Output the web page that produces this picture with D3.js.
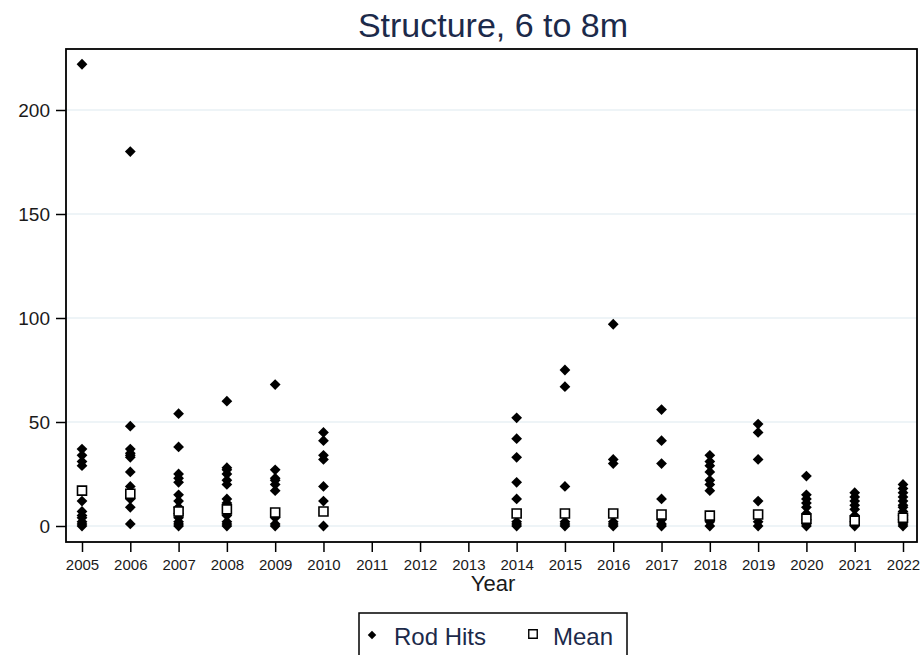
<!DOCTYPE html>
<html>
<head>
<meta charset="utf-8">
<script src="https://cdn.jsdelivr.net/npm/d3@7"></script>
<style>
  html, body { margin: 0; padding: 0; background: #fff; }
  svg { display: block; font-family: "Liberation Sans", Arial, sans-serif; }
</style>
</head>
<body>
<svg id="chart" width="921" height="655"></svg>
<script>
// Survey years shown on the x axis (2011-2013 have no samples)
const years = [2005, 2006, 2007, 2008, 2009, 2010, 2011, 2012, 2013,
               2014, 2015, 2016, 2017, 2018, 2019, 2020, 2021, 2022];

// Sampled years and their individual rod-hit counts
const sampleYears = [2005, 2006, 2007, 2008, 2009, 2010,
                     2014, 2015, 2016, 2017, 2018, 2019, 2020, 2021, 2022];
const rodHits = [
  [222, 37, 34, 31, 29, 12, 7, 5, 4, 2, 1, 0],
  [180, 48, 37, 35, 34, 33, 26, 19, 13, 9, 1],
  [54, 38, 25, 23, 21, 15, 12, 9, 6, 4, 2, 1, 0],
  [60, 28, 27, 25, 22, 20, 13, 11, 5, 2, 1, 0],
  [68, 27, 23, 22, 20, 17, 4, 1, 0],
  [45, 41, 34, 32, 19, 12, 0],
  [52, 42, 33, 21, 13, 2, 1, 0],
  [75, 67, 19, 2, 1, 0],
  [97, 32, 30, 2, 1, 0],
  [56, 41, 30, 13, 3, 1, 0],
  [34, 31, 29, 26, 22, 20, 17, 2, 0],
  [49, 45, 32, 12, 2, 0],
  [24, 15, 13, 11, 9, 6, 3, 1, 0],
  [16, 14, 12, 10, 8, 5, 2, 0],
  [20, 18, 16, 14, 12, 10, 9, 7, 5, 3, 1, 0]
];
// Mean rod hits per sampled year
const meanHits = [17, 15.5, 7, 8, 6.5, 7, 6, 6, 6, 5.5, 5, 5.5, 3.5, 2.5, 4];

const yTicks = [0, 50, 100, 150, 200];
const titleText = "Structure, 6 to 8m";
const xTitle = "Year";
const legendLabels = ["Rod Hits", "Mean"];

const svg = d3.select("#chart");

// Plot region
const box = { left: 66, right: 917, top: 49, bottom: 542 };

const x = d3.scaleLinear().domain([2005, 2022]).range([82, 903]);
const y = d3.scaleLinear().domain([0, 200]).range([526, 110]);

// Gridlines
svg.append("g")
  .selectAll("line")
  .data(yTicks)
  .join("line")
  .attr("x1", box.left).attr("x2", box.right)
  .attr("y1", d => y(d)).attr("y2", d => y(d))
  .attr("stroke", "#e8f0f4")
  .attr("stroke-width", 1.5);

// Y axis
const yAxis = svg.append("g")
  .attr("transform", `translate(${box.left},0)`)
  .call(d3.axisLeft(y).tickValues(yTicks).tickSize(10).tickPadding(6));
yAxis.select(".domain").remove();
yAxis.selectAll(".tick line").attr("stroke", "#000").attr("stroke-width", 1.5);
yAxis.selectAll(".tick text")
  .attr("font-family", "Liberation Sans, Arial, sans-serif")
  .attr("font-size", 19)
  .attr("fill", "#1a1a1a");

// X axis
const xAxis = svg.append("g")
  .attr("transform", `translate(0,${box.bottom})`)
  .call(d3.axisBottom(x).tickValues(years).tickFormat(d3.format("d")).tickSize(10).tickPadding(7));
xAxis.select(".domain").remove();
xAxis.selectAll(".tick line").attr("stroke", "#000").attr("stroke-width", 1.5);
xAxis.selectAll(".tick text")
  .attr("font-family", "Liberation Sans, Arial, sans-serif")
  .attr("font-size", 15)
  .attr("fill", "#1a1a1a");

// Plot frame
svg.append("rect")
  .attr("x", box.left).attr("y", box.top)
  .attr("width", box.right - box.left).attr("height", box.bottom - box.top)
  .attr("fill", "none")
  .attr("stroke", "#000")
  .attr("stroke-width", 1.8);

// Rod-hit points as diamonds
const diamond = d3.symbol(d3.symbolSquare, 58);
const pts = [];
sampleYears.forEach((yr, i) => rodHits[i].forEach(v => pts.push({ yr, v })));
svg.append("g")
  .selectAll("path")
  .data(pts)
  .join("path")
  .attr("d", diamond)
  .attr("transform", d => `translate(${x(d.yr)},${y(d.v)}) rotate(45)`)
  .attr("fill", "#000");

// Mean markers as hollow squares
const square = d3.symbol(d3.symbolSquare, 81);
svg.append("g")
  .selectAll("path")
  .data(sampleYears.map((yr, i) => ({ yr, v: meanHits[i] })))
  .join("path")
  .attr("d", square)
  .attr("transform", d => `translate(${x(d.yr)},${y(d.v)})`)
  .attr("fill", "#fff")
  .attr("stroke", "#000")
  .attr("stroke-width", 1.6);

// Title
svg.append("text")
  .attr("x", 493).attr("y", 37)
  .attr("text-anchor", "middle")
  .attr("font-size", 34)
  .attr("fill", "#1c2a4a")
  .text(titleText);

// X axis title
svg.append("text")
  .attr("x", 493).attr("y", 591)
  .attr("text-anchor", "middle")
  .attr("font-size", 22)
  .attr("fill", "#1a1a1a")
  .text(xTitle);

// Legend
const lg = svg.append("g");
lg.append("rect")
  .attr("x", 359).attr("y", 613)
  .attr("width", 268).attr("height", 60)
  .attr("fill", "#fff")
  .attr("stroke", "#000")
  .attr("stroke-width", 1.5);
lg.append("path")
  .attr("d", d3.symbol(d3.symbolSquare, 36))
  .attr("transform", "translate(372,635) rotate(45)")
  .attr("fill", "#000");
lg.append("text")
  .attr("x", 394).attr("y", 645)
  .attr("font-size", 24)
  .attr("fill", "#1c2a4a")
  .text(legendLabels[0]);
lg.append("path")
  .attr("d", d3.symbol(d3.symbolSquare, 72))
  .attr("transform", "translate(533,634)")
  .attr("fill", "#fff")
  .attr("stroke", "#000")
  .attr("stroke-width", 1.4);
lg.append("text")
  .attr("x", 553).attr("y", 645)
  .attr("font-size", 24)
  .attr("fill", "#1c2a4a")
  .text(legendLabels[1]);
</script>
</body>
</html>
